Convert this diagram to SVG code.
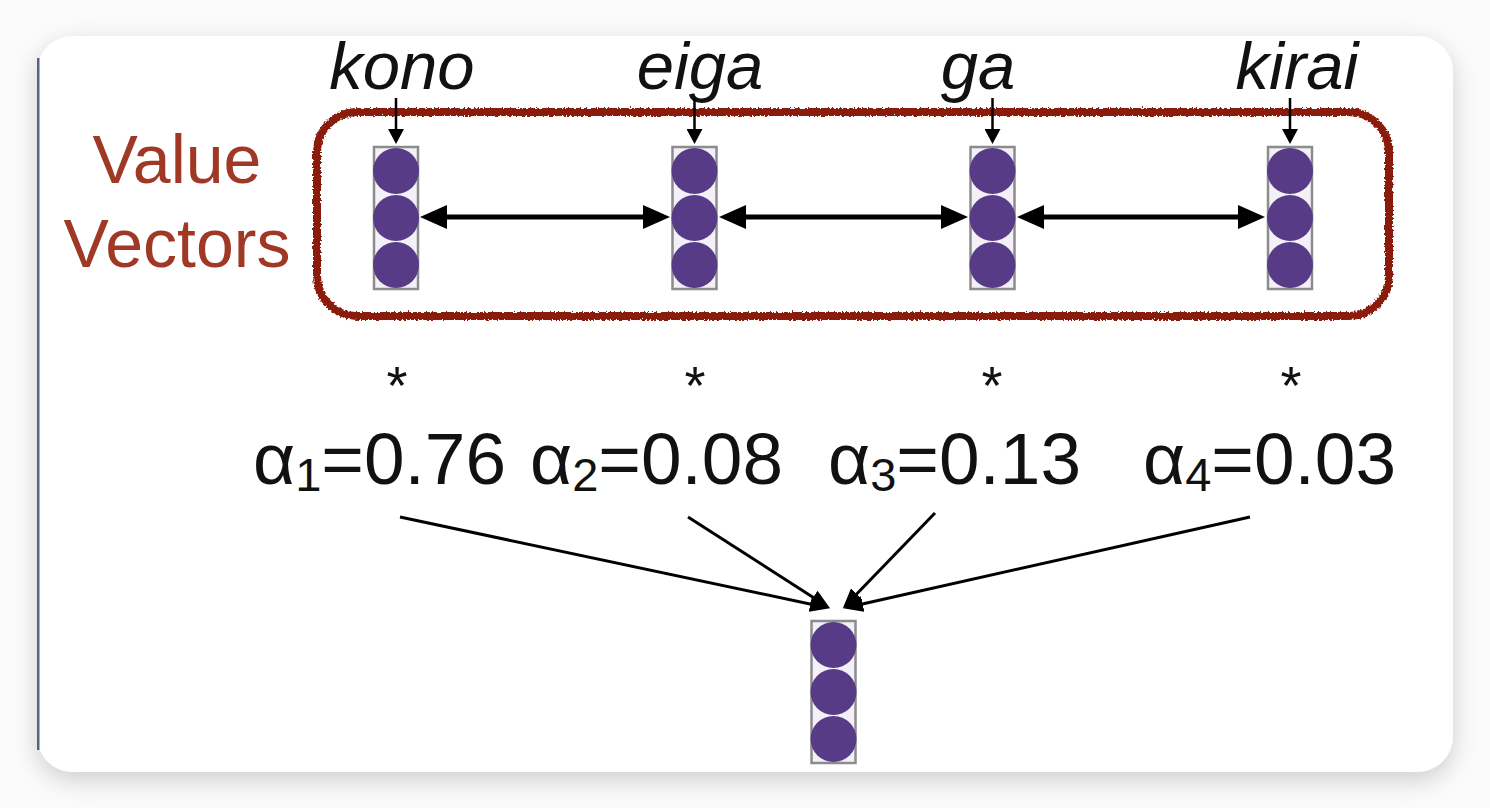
<svg xmlns="http://www.w3.org/2000/svg" width="1490" height="808" viewBox="0 0 1490 808">
<style>
.vbox{fill:#f3f0f8;stroke:#8c8c8c;stroke-width:2.5}
.cell{fill:#573b87}
.word{font-family:"Liberation Sans",Arial,sans-serif;font-style:italic;font-size:67px;fill:#111;text-anchor:middle}
.lab{font-family:"Liberation Sans",Arial,sans-serif;font-size:68px;fill:#a03826;text-anchor:middle}
.star{font-family:"Liberation Sans",Arial,sans-serif;font-size:54px;fill:#111;text-anchor:middle}
.wt{font-family:"Liberation Sans",Arial,sans-serif;font-size:73px;fill:#111}
.sub{font-size:47px;fill:#111}
.harrow{stroke:#000;stroke-width:5;fill:none;marker-start:url(#bigHead);marker-end:url(#bigHead)}
.darrow{stroke:#000;stroke-width:2.5;fill:none;marker-end:url(#smallHead)}
.carrow{stroke:#000;stroke-width:3;fill:none;marker-end:url(#midHead)}
</style>
<defs>
<filter id="shadow" x="-10%" y="-10%" width="120%" height="125%">
<feDropShadow dx="0" dy="8" stdDeviation="12" flood-color="#000" flood-opacity="0.18"/>
</filter>
<filter id="rough" x="-5%" y="-15%" width="110%" height="130%">
<feTurbulence type="fractalNoise" baseFrequency="0.5" numOctaves="2" seed="4" result="n"/>
<feDisplacementMap in="SourceGraphic" in2="n" scale="5" xChannelSelector="R" yChannelSelector="G"/>
</filter>
<marker id="bigHead" viewBox="0 0 27 24" refX="17" refY="12" markerWidth="27" markerHeight="24" markerUnits="userSpaceOnUse" orient="auto-start-reverse">
<path d="M0,0 L27,12 L0,24 z" fill="#000"/>
</marker>
<marker id="smallHead" viewBox="0 0 15 16" refX="9" refY="8" markerWidth="15" markerHeight="16" markerUnits="userSpaceOnUse" orient="auto">
<path d="M0,0 L15,8 L0,16 z" fill="#000"/>
</marker>
<marker id="midHead" viewBox="0 0 20 16" refX="14" refY="8" markerWidth="20" markerHeight="16" markerUnits="userSpaceOnUse" orient="auto">
<path d="M0,0 L20,8 L0,16 z" fill="#000"/>
</marker>
<g id="vec">
<rect class="vbox" x="-22" y="0" width="44" height="142"/>
<circle class="cell" cx="0" cy="24" r="23"/>
<circle class="cell" cx="0" cy="71" r="23"/>
<circle class="cell" cx="0" cy="118" r="23"/>
</g>
</defs>

<rect x="0" y="0" width="1490" height="808" fill="#fbfbfb"/>
<g id="card">
<rect x="37" y="36" width="1416" height="736" rx="36" fill="#fff" filter="url(#shadow)"/>
<rect x="37" y="58" width="2.5" height="692" fill="#56648a"/>
</g>

<g id="value-group-border">
<rect x="317" y="112" width="1072" height="204" rx="40" fill="none" stroke="#8a1b07" stroke-width="8" filter="url(#rough)"/>
</g>

<g id="label-value-vectors">
<text class="lab" x="177" y="183">Value</text>
<text class="lab" x="177" y="267">Vectors</text>
</g>

<g id="word-kono"><text class="word" x="402" y="89">kono</text></g>
<g id="word-eiga"><text class="word" x="700" y="89">eiga</text></g>
<g id="word-ga"><text class="word" x="978" y="89">ga</text></g>
<g id="word-kirai"><text class="word" x="1297" y="89">kirai</text></g>

<g id="vec-kono"><use href="#vec" x="396" y="147"/></g>
<g id="vec-eiga"><use href="#vec" x="694.5" y="147"/></g>
<g id="vec-ga"><use href="#vec" x="992.5" y="147"/></g>
<g id="vec-kirai"><use href="#vec" x="1290" y="147"/></g>
<g id="vec-output"><use href="#vec" x="833.5" y="621"/></g>

<g id="star-1"><text class="star" x="397" y="404">*</text></g>
<g id="star-2"><text class="star" x="695" y="404">*</text></g>
<g id="star-3"><text class="star" x="992" y="404">*</text></g>
<g id="star-4"><text class="star" x="1291" y="404">*</text></g>

<g id="weight-1"><text class="wt" x="253" y="484">α<tspan class="sub" dy="7">1</tspan><tspan dy="-7">=0.76</tspan></text></g>
<g id="weight-2"><text class="wt" x="530" y="484">α<tspan class="sub" dy="7">2</tspan><tspan dy="-7">=0.08</tspan></text></g>
<g id="weight-3"><text class="wt" x="828" y="484">α<tspan class="sub" dy="7">3</tspan><tspan dy="-7">=0.13</tspan></text></g>
<g id="weight-4"><text class="wt" x="1143" y="484">α<tspan class="sub" dy="7">4</tspan><tspan dy="-7">=0.03</tspan></text></g>

<g id="connectors">
<line class="darrow" x1="396" y1="98" x2="396" y2="138"/>
<line class="darrow" x1="694.5" y1="98" x2="694.5" y2="138"/>
<line class="darrow" x1="992.5" y1="98" x2="992.5" y2="138"/>
<line class="darrow" x1="1290" y1="98" x2="1290" y2="138"/>
<line class="harrow" x1="430" y1="217" x2="660" y2="217"/>
<line class="harrow" x1="729" y1="217" x2="958" y2="217"/>
<line class="harrow" x1="1027" y1="217" x2="1255" y2="217"/>
<line class="carrow" x1="400" y1="517" x2="824" y2="607"/>
<line class="carrow" x1="688" y1="517" x2="825" y2="605"/>
<line class="carrow" x1="935" y1="513" x2="847" y2="604"/>
<line class="carrow" x1="1250" y1="517" x2="849" y2="607"/>
</g>
</svg>
